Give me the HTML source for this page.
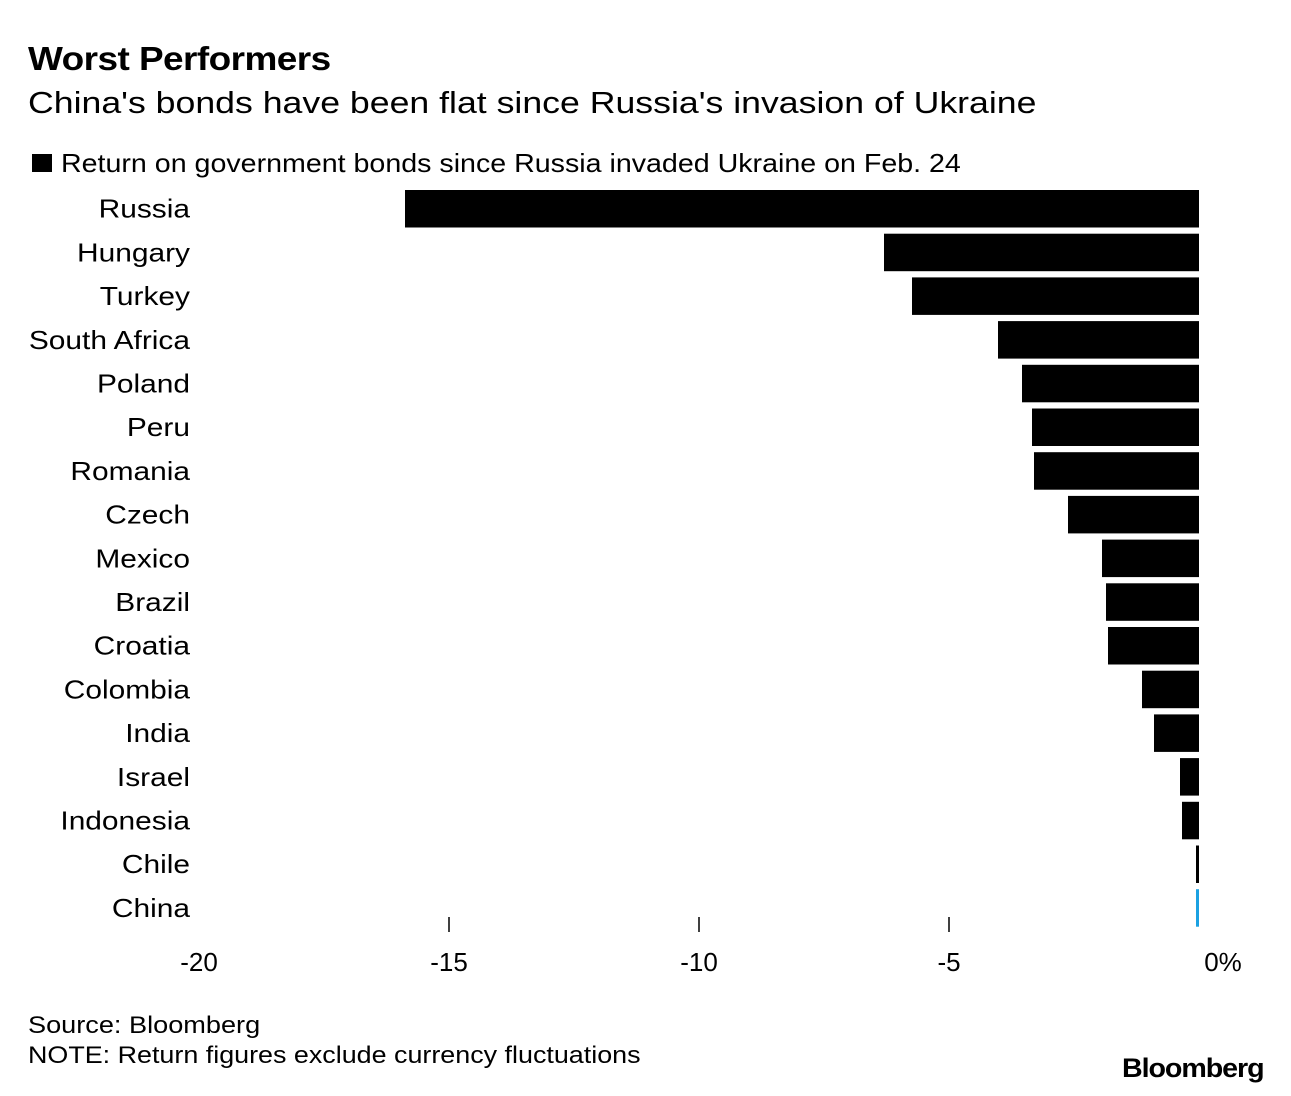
<!DOCTYPE html>
<html><head><meta charset="utf-8"><style>
body{margin:0;width:1291px;height:1096px;background:#fff;font-family:"Liberation Sans",Arial,sans-serif;position:relative;overflow:hidden}
.t{position:absolute;white-space:nowrap;color:#000;transform-origin:left top}
</style></head><body>
<div class="t" style="left:28px;top:40px;font-size:33px;font-weight:bold;letter-spacing:-0.5px;transform:scaleX(1.12)">Worst Performers</div>
<div class="t" style="left:28px;top:85px;font-size:31px;transform:scaleX(1.15)">China's bonds have been flat since Russia's invasion of Ukraine</div>
<div style="position:absolute;left:32px;top:154px;width:20px;height:18px;background:#000"></div>
<div class="t" style="left:61px;top:148px;font-size:26px;transform:scaleX(1.1)">Return on government bonds since Russia invaded Ukraine on Feb. 24</div>
<svg id="chart" width="1291" height="1000" style="position:absolute;left:0;top:0"></svg>
<div class="t" style="left:28px;top:1012px;font-size:24px;transform:scaleX(1.13)">Source: Bloomberg</div>
<div class="t" style="left:28px;top:1042px;font-size:24px;transform:scaleX(1.12)">NOTE: Return figures exclude currency fluctuations</div>
<div class="t" style="left:1122px;top:1053px;font-size:27px;font-weight:bold;letter-spacing:-1px;transform:scaleX(1.06)">Bloomberg</div>
<script>
const categories=["Russia","Hungary","Turkey","South Africa","Poland","Peru","Romania","Czech","Mexico","Brazil","Croatia","Colombia","India","Israel","Indonesia","Chile","China"];
const values=[-15.88,-6.3,-5.74,-4.02,-3.54,-3.34,-3.3,-2.62,-1.94,-1.86,-1.82,-1.14,-0.9,-0.38,-0.34,-0.06,-0.02];
const tickValues=[-20,-15,-10,-5,0];
const tickLabels=["-20","-15","-10","-5","0%"];
const svg=document.getElementById('chart');
const NS='http://www.w3.org/2000/svg';
const x=v=>1199+v*50;
const y=i=>190+i*43.7;
const bh=37.5;
categories.forEach((c,i)=>{
  const v=values[i];
  const r=document.createElementNS(NS,'rect');
  
  
  const w=Math.max(Math.abs(x(v)-x(0)),3);
  r.setAttribute('x',Math.min(x(v),x(0)-3));
  r.setAttribute('y',y(i));
  r.setAttribute('width',w);
  r.setAttribute('height',bh);
  r.setAttribute('fill',c==='China'?'#1ba1e2':'#000');
  svg.appendChild(r);
  const t=document.createElementNS(NS,'text');
  
  
  t.setAttribute('x',190);t.setAttribute('y',y(i)+bh/2+9);
  t.setAttribute('text-anchor','end');t.setAttribute('font-size','26');
  t.setAttribute('font-family','Liberation Sans, Arial, sans-serif');
  t.setAttribute('transform','translate(190,0) scale(1.15,1) translate(-190,0)');
  t.textContent=c;svg.appendChild(t);
});
tickValues.forEach((v,i)=>{
  if(v!==0&&v!==-20){
    const l=document.createElementNS(NS,'line');
    
    
    l.setAttribute('x1',x(v));l.setAttribute('x2',x(v));
    l.setAttribute('y1',917);l.setAttribute('y2',932);
    l.setAttribute('stroke','#000');l.setAttribute('stroke-width','1.5');
    svg.appendChild(l);
  }
  const t=document.createElementNS(NS,'text');
  
  
  t.setAttribute('x',v===0?x(v)+24:x(v));t.setAttribute('y',971);
  t.setAttribute('text-anchor','middle');t.setAttribute('font-size','26');
  t.setAttribute('font-family','Liberation Sans, Arial, sans-serif');
  t.textContent=tickLabels[i];svg.appendChild(t);
});
</script>
</body></html>
